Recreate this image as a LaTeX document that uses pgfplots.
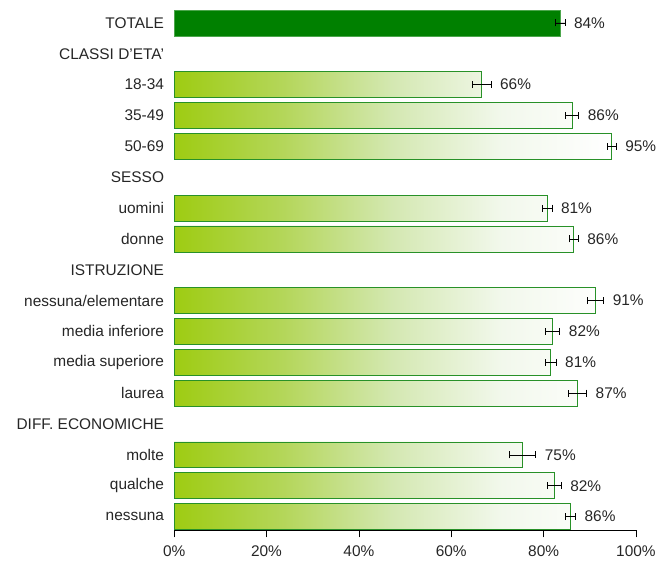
\documentclass[border=0pt]{standalone}
\usepackage{pgfplots}
\pgfplotsset{compat=1.18}
\usepackage{pgfplotstable}
\usepackage{fontspec}
\setmainfont{Liberation Sans}
\definecolor{dkgreen}{RGB}{0,128,0}
\definecolor{gA}{RGB}{158,204,18}
\definecolor{gB}{RGB}{180,214,90}
\definecolor{gC}{RGB}{212,232,178}
\definecolor{gD}{RGB}{242,248,236}
\definecolor{bordergreen}{RGB}{40,145,40}
\pgfdeclarehorizontalshading{bargrad}{100bp}{color(0bp)=(gA); color(25bp)=(gA); color(37.5bp)=(gB); color(50bp)=(gC); color(62.5bp)=(gD); color(75bp)=(white); color(100bp)=(white)}

\pgfplotstableread{
y v e p
0 83.6 1.0 84
}\totale

\pgfplotstableread{
y v e p
2 66.6 2.0 66
3 86.2 1.4 86
4 94.7 1.0 95
6 80.8 1.0 81
7 86.5 1.0 86
9 91.2 1.8 91
10 81.9 1.6 82
11 81.5 1.2 81
12 87.3 2.0 87
14 75.4 2.9 75
15 82.3 1.5 82
16 85.8 1.1 86
}\gruppi

\begin{document}
\begin{tikzpicture}
\begin{axis}[
  name=ax,
  x=4.64bp, y=31bp,
  xmin=0, xmax=100,
  ymin=-0.74, ymax=16.45,
  y dir=reverse,
  axis x line*=bottom,
  axis y line*=left,
  y axis line style={draw=none},
  ytick style={draw=none},
  xtick={0,20,...,100},
  xticklabel={\pgfmathprintnumber{\tick}\%},
  xtick align=outside,
  major tick length=7bp,
  x tick style={black, line width=0.6bp},
  x axis line style={black, line width=0.6bp},
  ytick={0,...,16},
  yticklabels={TOTALE, CLASSI D'ETA', 18-34, 35-49, 50-69, SESSO, uomini, donne, ISTRUZIONE, nessuna/elementare, media inferiore, media superiore, laurea, DIFF. ECONOMICHE, molte, qualche, nessuna},
  /pgf/number format/assume math mode=true,
  tick label style={font=\fontsize{15.5bp}{18bp}\selectfont, text=black!85},
  yticklabel style={inner sep=0pt, xshift=-10bp},
  xticklabel style={yshift=-5bp},
  clip=false,
]
\addplot[xbar, bar shift=0pt, bar width=26bp, fill=dkgreen, draw=dkgreen!70, line width=0.6bp,
  error bars/.cd, x dir=both, x explicit,
  error bar style={black, line width=0.6bp}, error mark options={rotate=90, mark size=3.5bp, black, line width=0.6bp}]
  table[x=v, y=y, x error=e] {\totale};
\addplot[xbar, bar shift=0pt, bar width=26bp, shading=bargrad, draw=bordergreen, line width=0.7bp,
  error bars/.cd, x dir=both, x explicit,
  error bar style={black, line width=0.6bp}, error mark options={rotate=90, mark size=3.5bp, black, line width=0.6bp}]
  table[x=v, y=y, x error=e] {\gruppi};
\addplot[only marks, mark=none, forget plot,
  nodes near coords={\pgfmathprintnumber{\pgfplotspointmeta}\%},
  point meta=\thisrow{p},
  every node near coord/.append style={anchor=west, xshift=9bp, yshift=0bp, font=\fontsize{15.5bp}{18bp}\selectfont, text=black!85, inner sep=0pt}]
  table[x expr=\thisrow{v}+\thisrow{e}, y=y] {\totale};
\addplot[only marks, mark=none, forget plot,
  nodes near coords={\pgfmathprintnumber{\pgfplotspointmeta}\%},
  point meta=\thisrow{p},
  every node near coord/.append style={anchor=west, xshift=9bp, yshift=0bp, font=\fontsize{15.5bp}{18bp}\selectfont, text=black!85, inner sep=0pt}]
  table[x expr=\thisrow{v}+\thisrow{e}, y=y] {\gruppi};
\end{axis}
\path (ax.south west) ++(-175bp,-30bp) rectangle ++(659bp,563bp);
\end{tikzpicture}
\end{document}
